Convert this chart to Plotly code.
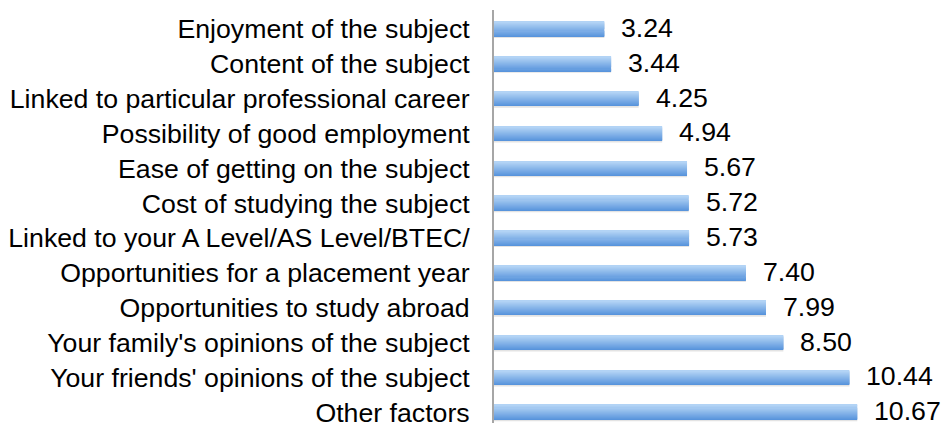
import plotly.graph_objects as go

categories = [
    "Enjoyment of the subject",
    "Content of the subject",
    "Linked to particular professional career",
    "Possibility of good employment",
    "Ease of getting on the subject",
    "Cost of studying the subject",
    "Linked to your A Level/AS Level/BTEC/",
    "Opportunities for a placement year",
    "Opportunities to study abroad",
    "Your family's opinions of the subject",
    "Your friends' opinions of the subject",
    "Other factors",
]
values = [3.24, 3.44, 4.25, 4.94, 5.67, 5.72, 5.73, 7.40, 7.99, 8.50, 10.44, 10.67]

FONT = "Liberation Sans, Arial, sans-serif"
BAR_W = 0.42
# gradient from bottom (dark) to top (light)
dark = (88, 148, 220)
light = (178, 211, 245)
N_STRIPS = 14

fig = go.Figure()

# soft shadow
fig.add_trace(go.Bar(
    x=values, y=categories, orientation="h",
    width=BAR_W, offset=-BAR_W / 2 - 0.05,
    marker=dict(color="rgba(80,80,80,0.16)", line=dict(width=0)),
    hoverinfo="skip", showlegend=False,
))

for k in range(N_STRIPS):
    t = k / (N_STRIPS - 1)
    c = "rgb(%d,%d,%d)" % tuple(round(d + (l - d) * t) for d, l in zip(dark, light))
    fig.add_trace(go.Bar(
        x=values, y=categories, orientation="h",
        width=BAR_W / N_STRIPS + 0.003, offset=-BAR_W / 2 + k * BAR_W / N_STRIPS,
        marker=dict(color=c, line=dict(width=0)),
        showlegend=False,
    ))

for cat, v in zip(categories, values):
    fig.add_annotation(
        x=v, y=cat, text=f"{v:.2f}", showarrow=False,
        xanchor="left", yanchor="middle", xshift=15, yshift=1,
        font=dict(family=FONT, size=26.7, color="#000000"),
    )

fig.update_layout(
    width=942, height=423,
    margin=dict(l=494, r=0, t=10, b=0, autoexpand=False),
    barmode="overlay",
    plot_bgcolor="white", paper_bgcolor="white",
    xaxis=dict(range=[0, 13.16], showgrid=False, zeroline=False, automargin=False,
               showticklabels=False, showline=False, fixedrange=True),
    yaxis=dict(type="category", categoryorder="array",
               categoryarray=categories[::-1],
               range=[-0.31, 11.544], automargin=False,
               showgrid=False, zeroline=False,
               showline=True, linecolor="#a6a6a6", linewidth=2,
               ticks="", ticklabelstandoff=17,
               tickfont=dict(family=FONT, size=26.7, color="#000000")),
    font=dict(family=FONT),
)

fig.write_html("out.html", config={"displayModeBar": False},
               post_script="document.body.style.margin='0';document.body.style.overflow='hidden';")
